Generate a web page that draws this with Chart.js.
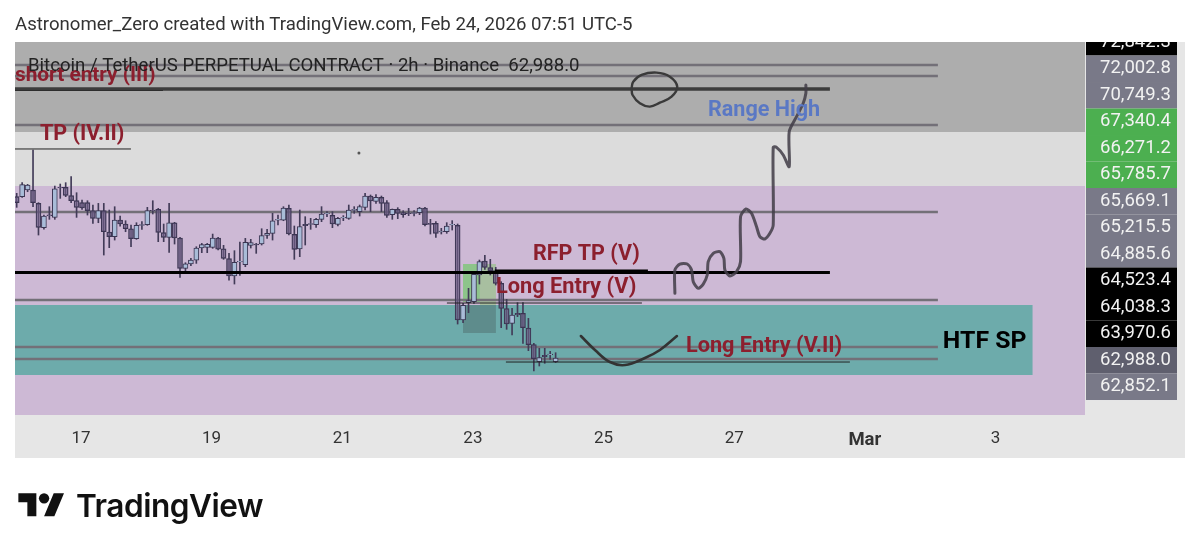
<!DOCTYPE html>
<html>
<head>
<meta charset="utf-8">
<style>
  body { margin: 0; background: #fff; overflow: hidden; }
  #wrap { position: relative; width: 1199px; height: 552px; }
  #header { position: absolute; left: 15px; top: 13px; font: 18.6px Roboto, sans-serif; color: #333; white-space: nowrap; }
  #brand { position: absolute; left: 76px; top: 486px; font: 600 31.6px Inter, sans-serif; color: #111; letter-spacing: -0.5px; }
  #logo { position: absolute; left: 18px; top: 488px; }
</style>
<script src="https://cdn.jsdelivr.net/npm/chart.js@4/dist/chart.umd.min.js"></script>
</head>
<body>
<div id="wrap">
  <div id="header">Astronomer_Zero created with TradingView.com, Feb 24, 2026 07:51 UTC-5</div>
  <canvas id="chart" width="1199" height="552"></canvas>
  <svg id="logo" width="47" height="36" viewBox="0 0 36 28"><path fill="#111" d="M14 22H7V11H0V4h14v18zM28 22h-8l7.5-18h8L28 22z"/><circle fill="#111" cx="20" cy="8" r="4"/></svg>
  <div id="brand">TradingView</div>
</div>
<script>
"use strict";

// 2h candles, one every 1/12 of a day
const FIRST_CANDLE_DAY = 16.016;
const opens = [65948,65948,66070,66070,65825,65379,65617,65568,66119,66119,65966,65874,65838,65838,65691,65550,65691,65299,65214,65519,65446,65360,65177,65422,65434,65697,65715,65287,65201,65470,65189,64632,64712,64785,65006,65018,65018,65189,64993,64810,64492,64749,64700,65055,65079,65079,65238,65275,65519,65519,65734,65257,64988,65440,65440,65434,65532,65630,65606,65440,65557,65551,65697,65673,65752,65960,65862,65936,65838,65618,65716,65655,65642,65642,65655,65740,65459,65459,65300,65306,65428,65422,63685,64003,64021,64511,64768,64645,64590,64358,63893,63624,63807,63807,63538,63232,62920,63036,63049,62920];
const highs = [66009,66205,66174,66804,65838,65611,65764,66143,66180,66205,66315,66021,65886,65874,65795,65825,65825,65703,65764,65593,65507,65428,65470,65489,65752,65874,65733,65446,65825,65477,65201,64736,64816,65030,65091,65091,65262,65201,65055,64908,64957,65116,65183,65165,65091,65360,65348,65642,65611,65764,65795,65410,65703,65581,65551,65551,65765,65673,65673,65569,65600,65795,65765,65795,66009,65979,65985,65960,65875,65722,65746,65691,65734,65691,65752,65752,65532,65489,65367,65471,65508,65447,63991,64266,64553,64786,64872,64798,64651,64388,64064,63899,64003,64003,63715,63257,63165,63165,63110,63085];
const lows = [65752,65935,66039,65764,65244,65354,65532,65532,65917,65948,65838,65568,65715,65611,65458,65470,64877,65012,65152,65409,65305,65030,65165,65348,65422,65630,65122,65122,64926,65079,64467,64553,64681,64724,64920,64920,65000,64969,64798,64418,64345,64504,64663,65006,64908,65061,65183,65152,65428,65507,65245,64798,64847,65061,65349,65385,65489,65581,65379,65410,65508,65532,65642,65593,65703,65673,65826,65673,65569,65532,65544,65569,65600,65593,65618,65410,65263,65202,65263,65275,65336,63611,63636,63819,63991,64345,64615,64511,64327,63544,63514,63410,63746,63257,63122,62749,62841,62890,62963,62902];
const closes = [65838,66168,66162,65838,65385,65593,65593,66094,66107,65972,65874,65752,65740,65691,65550,65691,65305,65214,65519,65446,65360,65177,65422,65434,65691,65685,65293,65201,65470,65189,64632,64718,64785,65006,65067,65073,65189,64987,64816,64492,64743,64761,65110,65104,65061,65232,65275,65507,65532,65740,65263,64982,65398,65416,65453,65532,65630,65642,65447,65551,65569,65703,65716,65765,65960,65869,65936,65826,65606,65716,65642,65618,65636,65655,65740,65434,65440,65275,65318,65410,65440,63685,63954,64040,64523,64755,64651,64590,64358,63899,63611,63777,63777,63544,63232,62975,62994,63012,63061,62988];

// x axis
const tickDays = [17, 19, 21, 23, 25, 27, 29, 31];
const tickLabels = ['17', '19', '21', '23', '25', '27', 'Mar', '3'];
const DAY_MIN = 15.99;
const DAY_MAX = 32.37;
const PRICE_MIN = 61942;
const PRICE_MAX = 68786;

// price tags stacked down the right side
const tagLabels = ['72,842.3','72,002.8','70,749.3','67,340.4','66,271.2','65,785.7','65,669.1','65,215.5','64,885.6','64,523.4','64,038.3','63,970.6','62,988.0','62,852.1'];
const tagColors = ['#000','#797988','#797988','#4caf50','#4caf50','#4caf50','#797988','#797988','#797988','#000','#000','#000','#5f5f6e','#797988'];

// background zones: top price, bottom price, last day
const zoneTops = [68786, 67135, 66144, 63960];
const zoneBottoms = [67135, 66144, 61942, 62676];
const zoneEnds = [DAY_MAX, DAY_MAX, DAY_MAX, 31.57];
const zoneColors = ['#adadad', '#dcdcdc', '#cdb9d5', '#6dabab'];

// long position tool
const toolDays = [22.847, 23.107, 23.352];
const toolPrices = [64713, 64015, 63960, 63446];

// horizontal levels that run to the same point
const greyLevels = [68364, 68162, 67263, 65667, 64052, 63190, 62969];
const GREY_END = 30.118;

// trend lines: price, first day, last day
const linePrices = [67924, 64557, 64584, 66823, 67906, 63997, 62914];
const lineStarts = [DAY_MIN, DAY_MIN, 23.337, DAY_MIN, DAY_MIN, 22.602, 23.505];
const lineEnds = [28.465, 28.465, 25.679, 17.765, 18.255, 25.587, 28.771];
const lineWidths = [3.5, 3, 3, 1, 2, 1, 1];
const lineColors = ['#3c3c3c', '#000', '#000', '#222', '#000', '#222', '#222'];

// hand drawn path
const pathDays = [26.092,26.092,26.168,26.281,26.347,26.373,26.449,26.526,26.587,26.602,26.679,26.781,26.842,26.857,26.934,27.036,27.097,27.097,27.179,27.265,27.342,27.393,27.469,27.546,27.597,27.597,27.648,27.750,27.842,27.842,27.954,28.056,28.097,28.097];
const pathPrices = [64174,64602,64712,64712,64602,64388,64266,64345,64510,64755,64908,64939,64816,64602,64492,64572,64755,65581,65722,65642,65397,65214,65171,65275,65428,66853,66853,66713,66498,67141,67416,67661,67844,67997];
const circleDays = [25.429,25.454,25.582,25.811,26.015,26.128,26.041,25.862,25.709,25.556,25.444,25.429];
const circlePrices = [67936,68058,68181,68224,68150,67967,67783,67673,67600,67661,67814,67936];
const smileDays = [24.653,24.868,25.097,25.327,25.633,25.863,26.123];
const smilePrices = [63391,63135,62914,62859,62988,63135,63391];

// chart notes
const noteTexts = ['short entry (III)', 'TP (IV.II)', 'RFP TP (V)', 'Long Entry (V)', 'Long Entry (V.II)', 'Range High', 'HTF SP'];
const noteDays = [15.99, 16.372, 23.919, 23.352, 26.261, 26.597, 30.194];
const notePrices = [68199, 67116, 64914, 64309, 63226, 67557, 63318];
const noteColors = ['#8c1f2e', '#8c1f2e', '#8c1f2e', '#8c1f2e', '#8c1f2e', '#5a78c4', '#000'];
const noteSizes = [20.8, 21.5, 21.5, 21.8, 21.7, 21.6, 24.8];
const SYMBOL_TITLE = 'Bitcoin / TetherUS PERPETUAL CONTRACT · 2h · Binance  62,988.0';

const candleDay = (i) => FIRST_CANDLE_DAY + i / 12;

const upBodies = [];
const downBodies = [];
const wicks = [];
opens.forEach((open, i) => {
  wicks.push({ x: candleDay(i), y: [lows[i], highs[i]] });
  const body = { x: candleDay(i), y: [Math.min(open, closes[i]), Math.max(open, closes[i])] };
  (closes[i] >= open ? upBodies : downBodies).push(body);
});

const hLine = (price, from, to, color, width, order) => ({
  type: 'line',
  data: [{ x: from, y: price }, { x: to, y: price }],
  borderColor: color,
  borderWidth: width,
  pointRadius: 0,
  order: order
});

const zoneBox = (top, bottom, from, to, color, order) => ({
  type: 'line',
  data: [{ x: from, y: top }, { x: to, y: top }],
  borderWidth: 0,
  pointRadius: 0,
  fill: { value: bottom },
  backgroundColor: color,
  order: order
});

const sketch = (days, prices, color, width, tension) => ({
  type: 'line',
  data: days.map((d, i) => ({ x: d, y: prices[i] })),
  borderColor: color,
  borderWidth: width,
  pointRadius: 0,
  tension: tension,
  borderCapStyle: 'round',
  borderJoinStyle: 'round',
  order: 1
});

const bodyBars = (data, color) => ({
  type: 'bar',
  data: data,
  grouped: false,
  barThickness: 5,
  backgroundColor: color,
  borderColor: '#3b3552',
  borderWidth: 1,
  borderSkipped: false,
  order: 4
});

const datasets = [];
zoneTops.forEach((top, i) => {
  datasets.push(zoneBox(top, zoneBottoms[i], DAY_MIN, zoneEnds[i], zoneColors[i], 20 - i));
});
datasets.push(zoneBox(toolPrices[0], toolPrices[1], toolDays[0], toolDays[1], '#8dc48a', 15));
datasets.push(zoneBox(toolPrices[0], toolPrices[2], toolDays[1], toolDays[2], '#a8bfa0', 15));
datasets.push(zoneBox(toolPrices[2], toolPrices[3], toolDays[0], toolDays[2], '#5e8c8c', 15));
greyLevels.forEach((price) => datasets.push(hLine(price, DAY_MIN, GREY_END, '#737078', 2.5, 10)));
datasets.push({
  type: 'bar',
  data: wicks,
  grouped: false,
  barThickness: 1,
  backgroundColor: '#423b58',
  order: 5
});
datasets.push(bodyBars(upBodies, '#a9bcd8'));
datasets.push(bodyBars(downBodies, 'rgba(150,125,175,0.35)'));
linePrices.forEach((price, i) => {
  datasets.push(hLine(price, lineStarts[i], lineEnds[i], lineColors[i], lineWidths[i], 3));
});
datasets.push(sketch(pathDays, pathPrices, 'rgba(65,60,70,0.85)', 3, 0.25));
datasets.push(sketch(circleDays, circlePrices, '#3a3a3a', 2.4, 0.4));
datasets.push(sketch(smileDays, smilePrices, '#333', 2.6, 0.4));
datasets.push({
  type: 'line',
  data: [{ x: 21.255, y: 66749 }],
  pointRadius: 1.5,
  pointBackgroundColor: '#555',
  pointBorderWidth: 0,
  showLine: false,
  order: 1
});

// axis strips and the boxes behind the price tags
const panelPlugin = {
  id: 'panels',
  beforeDraw: (chart) => {
    const { ctx, chartArea, scales } = chart;
    ctx.save();
    ctx.fillStyle = '#e6e6e6';
    ctx.fillRect(chartArea.left, chartArea.bottom, scales.y2.right - chartArea.left, scales.x.height);
    ctx.fillRect(chartArea.right, chartArea.top, scales.y2.width, chartArea.height);
    tagLabels.forEach((label, i) => {
      const y = scales.y2.getPixelForValue(i);
      ctx.fillStyle = tagColors[i];
      ctx.fillRect(chartArea.right + 1, y - 13.25, 91, 26.5);
    });
    ctx.restore();
  },
  afterDraw: (chart) => {
    // top tag is cut off by the edge of the panel
    const { ctx, chartArea } = chart;
    ctx.fillStyle = '#fff';
    ctx.fillRect(chartArea.right, chartArea.top - 20, 110, 20);
  }
};

const notesPlugin = {
  id: 'notes',
  afterDatasetsDraw: (chart) => {
    const { ctx, chartArea, scales } = chart;
    ctx.save();
    ctx.beginPath();
    ctx.rect(chartArea.left, chartArea.top, chartArea.width, chartArea.height);
    ctx.clip();
    ctx.textBaseline = 'middle';
    noteTexts.forEach((text, i) => {
      ctx.font = `bold ${noteSizes[i]}px Roboto, sans-serif`;
      ctx.fillStyle = noteColors[i];
      ctx.fillText(text, scales.x.getPixelForValue(noteDays[i]), scales.y.getPixelForValue(notePrices[i]) + 2);
    });
    ctx.font = '18.6px Roboto, sans-serif';
    ctx.fillStyle = '#222';
    ctx.fillText(SYMBOL_TITLE, chartArea.left + 13, chartArea.top + 24);
    ctx.restore();
  }
};

new Chart(document.getElementById('chart'), {
  type: 'line',
  data: { datasets: datasets },
  options: {
    responsive: false,
    animation: false,
    devicePixelRatio: 1,
    layout: { padding: { left: 15, top: 42, right: 14, bottom: 94 } },
    plugins: { legend: { display: false }, tooltip: { enabled: false } },
    scales: {
      x: {
        type: 'linear',
        min: DAY_MIN,
        max: DAY_MAX,
        offset: false,
        border: { display: false },
        grid: { display: false },
        afterBuildTicks: (scale) => { scale.ticks = tickDays.map((d) => ({ value: d })); },
        afterFit: (scale) => { scale.height = 43; },
        ticks: {
          autoSkip: false,
          maxRotation: 0,
          padding: 6,
          color: '#333',
          font: (ctx) => ({ family: 'Roboto, sans-serif', size: ctx.tick && ctx.tick.value === 29 ? 18.5 : 17, weight: ctx.tick && ctx.tick.value === 29 ? 'bold' : 'normal' }),
          callback: (value) => tickLabels[tickDays.indexOf(value)]
        }
      },
      y: {
        type: 'linear',
        display: false,
        min: PRICE_MIN,
        max: PRICE_MAX
      },
      y2: {
        type: 'linear',
        position: 'right',
        reverse: true,
        min: -0.01,
        max: 14.066,
        border: { display: false },
        grid: { display: false },
        afterBuildTicks: (scale) => { scale.ticks = tagLabels.map((_, i) => ({ value: i })); },
        afterFit: (scale) => { scale.width = 100; },
        ticks: {
          autoSkip: false,
          padding: 7,
          color: '#f2f2f2',
          font: { family: 'Roboto, sans-serif', size: 18.5 },
          callback: (value) => tagLabels[value]
        }
      }
    }
  },
  plugins: [panelPlugin, notesPlugin]
});
</script>
</body>
</html>
